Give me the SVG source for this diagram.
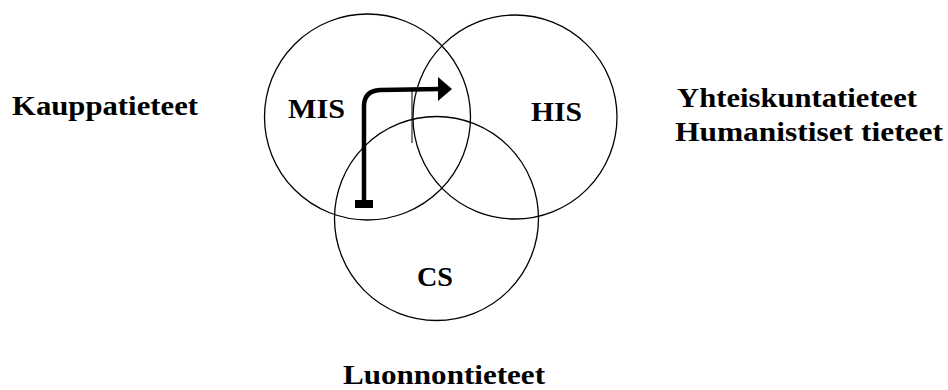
<svg xmlns="http://www.w3.org/2000/svg" width="948" height="390" viewBox="0 0 948 390">
<style>
.c{fill:none;stroke:#000;stroke-width:1.3}
.t{font-family:"Liberation Serif","Times New Roman",serif;font-weight:bold;font-size:27px;fill:#000}
.a{fill:none;stroke:#000;stroke-width:4.5;stroke-linejoin:round}
</style>
<rect width="948" height="390" fill="#fff"/>
<g id="mis">
<circle class="c" cx="367.5" cy="117" r="103"/>
<text class="t" x="288" y="118" textLength="57" lengthAdjust="spacingAndGlyphs">MIS</text>
</g>
<g id="his">
<circle class="c" cx="515" cy="117" r="102"/>
<text class="t" x="531" y="121" textLength="51" lengthAdjust="spacingAndGlyphs">HIS</text>
</g>
<g id="cs">
<circle class="c" cx="436.5" cy="218.5" r="102"/>
<text class="t" x="417" y="286" textLength="36" lengthAdjust="spacingAndGlyphs">CS</text>
</g>
<g id="kauppatieteet">
<text class="t" x="12" y="115" textLength="186" lengthAdjust="spacingAndGlyphs">Kauppatieteet</text>
</g>
<g id="yhteiskunta">
<text class="t" x="677" y="107" textLength="240" lengthAdjust="spacingAndGlyphs">Yhteiskuntatieteet</text>
<text class="t" x="675" y="141" textLength="268" lengthAdjust="spacingAndGlyphs">Humanistiset tieteet</text>
</g>
<g id="luonnontieteet">
<text class="t" x="343" y="384" font-size="26" textLength="202" lengthAdjust="spacingAndGlyphs">Luonnontieteet</text>
</g>
<g id="connectors">
<path class="a" d="M364,202 V106 Q364,91 380,90 L440,89"/>
<polygon points="438,77 452,89 438,101" fill="#000"/>
<rect x="355" y="200" width="18" height="8" fill="#000"/>
<line x1="412" y1="88" x2="412" y2="143" stroke="#000" stroke-width="1"/>
</g>
</svg>
